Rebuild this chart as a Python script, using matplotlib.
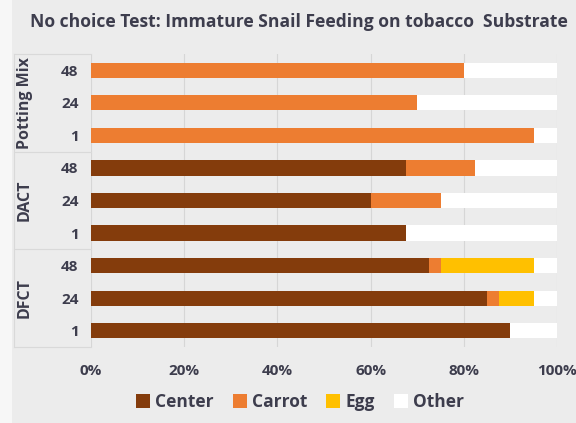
import matplotlib.pyplot as plt
from matplotlib.patches import Rectangle, Patch
import numpy as np

groups = ["DFCT", "DACT", "Potting Mix"]
hours = ["1", "24", "48"]
# rows from bottom to top: DFCT 1,24,48, DACT 1,24,48, Potting Mix 1,24,48
center = [90, 85, 72.5, 67.5, 60, 67.5, 0, 0, 0]
carrot = [0, 2.5, 2.5, 0, 15, 15, 95, 70, 80]
egg = [0, 7.5, 20, 0, 0, 0, 0, 0, 0]
other = [100 - a - b - c for a, b, c in zip(center, carrot, egg)]

series = ["Center", "Carrot", "Egg", "Other"]
colors = ["#843C0C", "#ED7D31", "#FFC000", "#FFFFFF"]

txt = "#3d3d4d"
bg = "#ececec"
plt.rcParams['font.family'] = ['Open Sans', 'DejaVu Sans']
plt.rcParams['font.weight'] = 'bold'

fig = plt.figure(figsize=(5.76, 4.23), dpi=100, facecolor=bg)
fig.patches.append(Rectangle((0, 0), 12 / 576, 1, transform=fig.transFigure,
                             facecolor="#f7f7f7", edgecolor="none"))
ax = fig.add_axes([91 / 576, 1 - 347 / 423, 466 / 576, 293 / 423])
ax.set_facecolor(bg)

y = np.arange(len(center))
left = np.zeros(len(center))
for vals, name, col in zip([center, carrot, egg, other], series, colors):
    ax.barh(y, vals, left=left, height=0.47, color=col, label=name, zorder=3)
    left += np.array(vals)

ax.set_xlim(0, 100)
ax.set_ylim(-0.5, 8.5)
ax.set_xticks(np.arange(0, 101, 20))
ax.set_xticklabels([f"{v}%" for v in range(0, 101, 20)])
ax.set_yticks(y)
ax.set_yticklabels(hours * 3)
ax.tick_params(axis="both", length=0, colors=txt, labelsize=11)
ax.tick_params(axis="y", pad=9)
ax.tick_params(axis="x", pad=12)
ax.grid(axis="x", color="#d6d6d6", lw=0.8, zorder=0)
for s in ax.spines.values():
    s.set_visible(False)

# category label area
tr = ax.get_yaxis_transform()
x0 = (14 - 91) / 466
for yy in [-0.5, 2.5, 5.5, 8.5]:
    ax.plot([x0, 0], [yy, yy], transform=tr, color="#d9d9d9", lw=0.8, clip_on=False)
ax.plot([x0, x0], [-0.5, 8.5], transform=tr, color="#d9d9d9", lw=0.8, clip_on=False)
for i, g in enumerate(groups):
    ax.text((25 - 91) / 466, 3 * i + 1, g, transform=tr, rotation=90,
            ha="center", va="center", fontsize=11.5, color=txt, fontweight="bold")

fig.text(30 / 576, 1 - 22 / 423, "No choice Test: Immature Snail Feeding on tobacco  Substrate",
         ha="left", va="center", fontsize=12.6, color=txt, fontweight="bold")

handles = [Patch(facecolor=c, edgecolor="none") for c in colors]
fig.legend(handles, series, loc="center", bbox_to_anchor=(300 / 576, 1 - 402 / 423),
           ncol=4, frameon=False, fontsize=12.5, labelcolor=txt,
           handlelength=0.8, handleheight=0.8, handletextpad=0.3, columnspacing=1.1)

fig.savefig("out.png", dpi=100, facecolor=bg)
